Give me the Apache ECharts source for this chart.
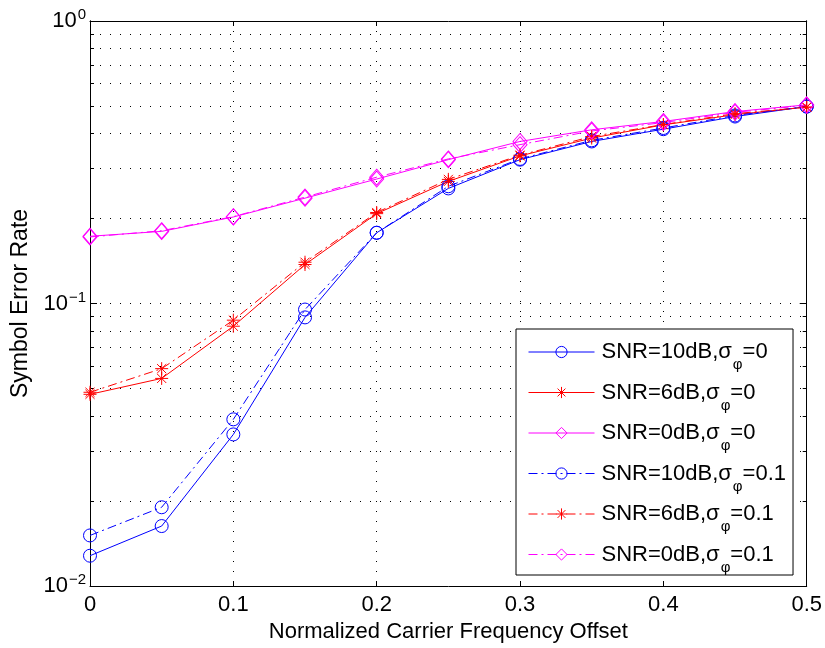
<!DOCTYPE html>
<html>
<head>
<meta charset="utf-8">
<script src="https://cdn.jsdelivr.net/npm/echarts@6/dist/echarts.min.js"></script>
<style>
    html, body { margin: 0; padding: 0; background: #fff; }
    #chart { width: 825px; height: 648px; }
</style>
</head>
<body>
<div id="chart"></div>
<script>
    // carrier frequency offsets (x axis)
    var offsets = [0, 0.05, 0.1, 0.15, 0.2, 0.25, 0.3, 0.35, 0.4, 0.45, 0.5];

    // symbol error rate
    var snr10Phase0 = [0.0128, 0.0163, 0.0344, 0.0893, 0.178, 0.2555, 0.323, 0.3746, 0.414, 0.459, 0.498];
    var snr6Phase0 = [0.0477, 0.0543, 0.0831, 0.1374, 0.208, 0.2705, 0.333, 0.385, 0.429, 0.466, 0.496];
    var snr0Phase0 = [0.173, 0.180, 0.2024, 0.236, 0.2758, 0.323, 0.3746, 0.412, 0.441, 0.478, 0.505];
    var snr10Phase01 = [0.0151, 0.0190, 0.0389, 0.0952, 0.178, 0.260, 0.325, 0.378, 0.418, 0.463, 0.498];
    var snr6Phase01 = [0.0485, 0.0588, 0.0873, 0.140, 0.210, 0.275, 0.335, 0.390, 0.430, 0.470, 0.495];
    var snr0Phase01 = [0.172, 0.181, 0.203, 0.238, 0.280, 0.325, 0.365, 0.408, 0.437, 0.475, 0.503];

    var seriesNames = [
        'SNR=10dB,σ_φ=0',
        'SNR=6dB,σ_φ=0',
        'SNR=0dB,σ_φ=0',
        'SNR=10dB,σ_φ=0.1',
        'SNR=6dB,σ_φ=0.1',
        'SNR=0dB,σ_φ=0.1'
    ];

    // tick values
    var yMajorTicks = [0.01, 0.1, 1];
    var yMinorTicks = [0.01, 0.02, 0.03, 0.04, 0.05, 0.06, 0.07, 0.08, 0.09,
        0.1, 0.2, 0.3, 0.4, 0.5, 0.6, 0.7, 0.8, 0.9, 1];

    var font = 'Liberation Sans, Arial, Helvetica, sans-serif';
    var blue = '#0000ff';
    var red = '#ff0000';
    var magenta = '#ff00ff';
    var solid = 'solid';
    var dashDot = [9, 4, 2, 4];
    var asterisk = 'path://M5,0L5,10M0,5L10,5M1.5,1.5L8.5,8.5M1.5,8.5L8.5,1.5';

    function pairs (vals) {
        return offsets.map(function (x, i) {
            return [x, vals[i]];
        });
    }

    var seriesList = [];
    var legendItems = [];

    function addSeries (name, vals, color, symbol, size, dash) {
        var itemStyle = { color: 'rgba(0,0,0,0)', borderColor: color, borderWidth: 1 };
        var lineStyle = { color: color, width: 1, type: dash };
        seriesList.push({
            name: name,
            type: 'line',
            data: pairs(vals),
            symbol: symbol,
            symbolSize: size,
            showAllSymbol: true,
            color: color,
            lineStyle: lineStyle,
            itemStyle: itemStyle,
            emphasis: { disabled: true },
            animation: false,
            z: 3
        });
        legendItems.push({ name: name, itemStyle: itemStyle, lineStyle: lineStyle });
    }

    addSeries(seriesNames[0], snr10Phase0, blue, 'circle', 13, solid);
    addSeries(seriesNames[1], snr6Phase0, red, asterisk, 13, solid);
    addSeries(seriesNames[2], snr0Phase0, magenta, 'diamond', [14, 16], solid);
    addSeries(seriesNames[3], snr10Phase01, blue, 'circle', 13, dashDot);
    addSeries(seriesNames[4], snr6Phase01, red, asterisk, 13, dashDot);
    addSeries(seriesNames[5], snr0Phase01, magenta, 'diamond', [14, 16], dashDot);

    var dotted = { show: true, lineStyle: { color: '#000', width: 1, type: [1, 9] } };
    var axisLine = { show: true, onZero: false, lineStyle: { color: '#000', width: 1 } };

    var option = {
        animation: false,
        backgroundColor: '#fff',
        grid: { left: 90, right: 18, top: 21, bottom: 61 },
        xAxis: [
            {
                type: 'value', min: 0, max: 0.5, interval: 0.1, position: 'bottom',
                axisLine: axisLine,
                axisTick: { show: true, inside: true, length: 5, lineStyle: { color: '#000' } },
                axisLabel: {
                    color: '#000', fontSize: 22, fontFamily: font, margin: 8,
                    formatter: function (v) { return String(+v.toFixed(2)); }
                },
                splitLine: dotted,
                name: 'Normalized Carrier Frequency Offset',
                nameLocation: 'middle',
                nameGap: 35,
                nameTextStyle: { color: '#000', fontSize: 22, fontFamily: font }
            },
            {
                type: 'value', min: 0, max: 0.5, interval: 0.1, position: 'top',
                axisLine: axisLine,
                axisTick: { show: true, inside: true, length: 5, lineStyle: { color: '#000' } },
                axisLabel: { show: false },
                splitLine: { show: false }
            }
        ],
        yAxis: [
            {
                type: 'log', logBase: 10, min: 0.01, max: 1, position: 'left',
                axisLine: axisLine,
                axisTick: { show: true, inside: true, length: 7, customValues: yMajorTicks, lineStyle: { color: '#000' } },
                axisLabel: {
                    customValues: yMajorTicks,
                    margin: 4,
                    formatter: function (v) {
                        var e = Math.round(Math.log10(v));
                        return '{b|10}{s|' + (e < 0 ? '\u2212' + (-e) : e) + '}';
                    },
                    rich: {
                        b: { fontSize: 22, color: '#000', fontFamily: font },
                        s: { fontSize: 15, color: '#000', fontFamily: font, padding: [0, 0, 12, 1] }
                    }
                },
                splitLine: { show: false },
                name: 'Symbol Error Rate',
                nameLocation: 'middle',
                nameGap: 57,
                nameTextStyle: { color: '#000', fontSize: 23, fontFamily: font }
            },
            {
                type: 'log', logBase: 10, min: 0.01, max: 1, position: 'left',
                axisLine: axisLine,
                axisTick: { show: true, inside: true, length: 4, customValues: yMinorTicks, lineStyle: { color: '#000' } },
                axisLabel: { show: false },
                splitLine: dotted
            },
            {
                type: 'log', logBase: 10, min: 0.01, max: 1, position: 'right',
                axisLine: axisLine,
                axisTick: { show: true, inside: true, length: 7, customValues: yMajorTicks, lineStyle: { color: '#000' } },
                axisLabel: { show: false },
                splitLine: { show: false }
            },
            {
                type: 'log', logBase: 10, min: 0.01, max: 1, position: 'right',
                axisLine: axisLine,
                axisTick: { show: true, inside: true, length: 4, customValues: yMinorTicks, lineStyle: { color: '#000' } },
                axisLabel: { show: false },
                splitLine: { show: false }
            }
        ],
        legend: {
            orient: 'vertical',
            left: 516,
            top: 329,
            backgroundColor: '#fff',
            borderColor: '#000',
            borderWidth: 1,
            borderRadius: 0,
            padding: [12, 7, 0, 12],
            itemWidth: 66,
            itemHeight: 14,
            itemGap: 9,
            selectedMode: false,
            data: legendItems,
            formatter: function (name) {
                var parts = name.split('_φ');
                return '{f|' + parts[0] + '}{s|φ}{a|' + parts[1] + '}';
            },
            textStyle: {
                color: '#000',
                fontFamily: font,
                rich: {
                    f: { fontSize: 22, color: '#000', fontFamily: font, padding: [0, 0, 0, 2] },
                    a: { fontSize: 22, color: '#000', fontFamily: font },
                    s: { fontSize: 15, color: '#000', fontFamily: font, padding: [26, 0, 0, 1] }
                }
            }
        },
        series: seriesList
    };

    var chart = echarts.init(document.getElementById('chart'), null, { renderer: 'canvas' });
    chart.setOption(option);
</script>
</body>
</html>
